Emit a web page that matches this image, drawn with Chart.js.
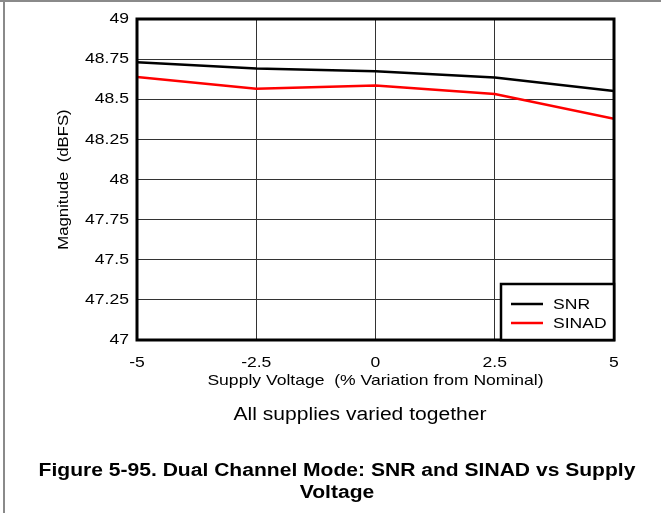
<!DOCTYPE html>
<html>
<head>
<meta charset="utf-8">
<script src="https://cdn.jsdelivr.net/npm/chart.js@4"></script>
<style>
  html, body { margin: 0; padding: 0; background: #fff; }
  #page { position: relative; width: 661px; height: 513px; overflow: hidden; }
  #chart { position: absolute; left: 0; top: 0; }
  #topRule { position: absolute; left: 0; top: 0; width: 661px; height: 2px; background: #8a8a8a; }
  #leftRule { position: absolute; left: 3px; top: 0; width: 2px; height: 513px; background: #8a8a8a; }
</style>
</head>
<body>
<div id="page">
  <canvas id="chart" width="661" height="513"></canvas>
  <div id="topRule"></div>
  <div id="leftRule"></div>
</div>
<script>
// Supply variation (% from nominal) and measured magnitudes (dBFS)
const supplyVariation = [-5, -2.5, 0, 2.5, 5];
const snrValues   = [48.73, 48.692, 48.675, 48.635, 48.552];
const sinadValues = [48.638, 48.565, 48.585, 48.533, 48.379];
const xTickValues = [-5, -2.5, 0, 2.5, 5];
const yTickValues = [47, 47.25, 47.5, 47.75, 48, 48.25, 48.5, 48.75, 49];
const seriesNames = ['SNR', 'SINAD'];
const seriesColors = ['#000000', '#ff0000'];
const conditionNote = 'All supplies varied together';
const captionLines = ['Figure 5-95. Dual Channel Mode: SNR and SINAD vs Supply', 'Voltage'];

const FONT = '"Liberation Sans", Arial, sans-serif';
// The figure's lettering is set slightly wide; stretch canvas text horizontally about its anchor.
const TEXT_STRETCH = 1.17;

const canvas = document.getElementById('chart');
const ctx2d = canvas.getContext('2d');
const baseFillText = ctx2d.fillText.bind(ctx2d);
ctx2d.fillText = function (text, x, y, maxWidth) {
  this.save();
  this.translate(x, y);
  this.scale(TEXT_STRETCH, 1);
  if (maxWidth === undefined) baseFillText(text, 0, 0);
  else baseFillText(text, 0, 0, maxWidth / TEXT_STRETCH);
  this.restore();
};

function toPoints(xs, ys) {
  return xs.map((x, i) => ({ x: x, y: ys[i] }));
}

// Heavy plot frame plus the boxed legend in the lower-right corner
const frameAndLegend = {
  id: 'frameAndLegend',
  afterDatasetsDraw(chart) {
    const { ctx, chartArea: a } = chart;
    ctx.save();
    ctx.strokeStyle = '#000';
    ctx.lineWidth = 3;
    ctx.strokeRect(a.left, a.top, a.right - a.left, a.bottom - a.top);

    const boxW = 113, boxH = 56;
    const bx = a.right - boxW, by = a.bottom - boxH;
    ctx.fillStyle = '#fff';
    ctx.fillRect(bx, by, boxW, boxH);
    ctx.lineWidth = 2.5;
    ctx.strokeRect(bx, by, boxW, boxH);

    ctx.font = '15px ' + FONT;
    ctx.textBaseline = 'middle';
    ctx.textAlign = 'left';
    chart.data.datasets.forEach((ds, i) => {
      const y = by + 20 + i * 19;
      ctx.strokeStyle = ds.borderColor;
      ctx.lineWidth = 2.5;
      ctx.beginPath();
      ctx.moveTo(bx + 10, y);
      ctx.lineTo(bx + 42, y);
      ctx.stroke();
      ctx.fillStyle = '#000';
      ctx.fillText(ds.label, bx + 52, y + 1);
    });
    ctx.restore();
  }
};

// Test-condition note and figure caption beneath the plot
const notes = {
  id: 'notes',
  afterDraw(chart) {
    const { ctx } = chart;
    ctx.save();
    ctx.fillStyle = '#000';
    ctx.textAlign = 'center';
    ctx.textBaseline = 'alphabetic';
    ctx.font = '18px ' + FONT;
    ctx.fillText(conditionNote, 360, 420);
    ctx.font = 'bold 18px ' + FONT;
    ctx.fillText(captionLines[0], 337, 476);
    ctx.fillText(captionLines[1], 337, 498);
    ctx.restore();
  }
};

new Chart(canvas, {
  type: 'line',
  data: {
    datasets: [
      { label: seriesNames[0], data: toPoints(supplyVariation, snrValues), borderColor: seriesColors[0], backgroundColor: seriesColors[0] },
      { label: seriesNames[1], data: toPoints(supplyVariation, sinadValues), borderColor: seriesColors[1], backgroundColor: seriesColors[1] }
    ]
  },
  options: {
    responsive: false,
    animation: false,
    devicePixelRatio: 1,
    layout: { padding: { top: 19, right: 47, bottom: 121, left: 51 } },
    elements: {
      line: { borderWidth: 2.5, tension: 0, fill: false },
      point: { radius: 0, hoverRadius: 0 }
    },
    plugins: { legend: { display: false }, tooltip: { enabled: false } },
    scales: {
      x: {
        type: 'linear',
        min: -5, max: 5,
        afterBuildTicks: s => { s.ticks = xTickValues.map(v => ({ value: v })); },
        afterFit: s => { s.height = 52; },
        ticks: { color: '#000', font: { family: FONT, size: 15 }, padding: 14, maxRotation: 0, autoSkip: false, callback: v => String(v) },
        grid: { color: '#333', lineWidth: 1, drawTicks: false },
        border: { display: false },
        title: { display: true, text: 'Supply Voltage  (% Variation from Nominal)', color: '#000', font: { family: FONT, size: 15 }, padding: { top: 0, bottom: 2 } }
      },
      y: {
        min: 47, max: 49,
        afterBuildTicks: s => { s.ticks = yTickValues.map(v => ({ value: v })); },
        afterFit: s => { s.width = 86; },
        ticks: { color: '#000', font: { family: FONT, size: 15 }, padding: 8, autoSkip: false, callback: v => String(+v.toFixed(2)) },
        grid: { color: '#333', lineWidth: 1, drawTicks: false },
        border: { display: false },
        title: { display: true, text: 'Magnitude  (dBFS)', color: '#000', font: { family: FONT, size: 14.3 }, padding: { top: 4, bottom: 4 } }
      }
    }
  },
  plugins: [frameAndLegend, notes]
});
</script>
</body>
</html>
